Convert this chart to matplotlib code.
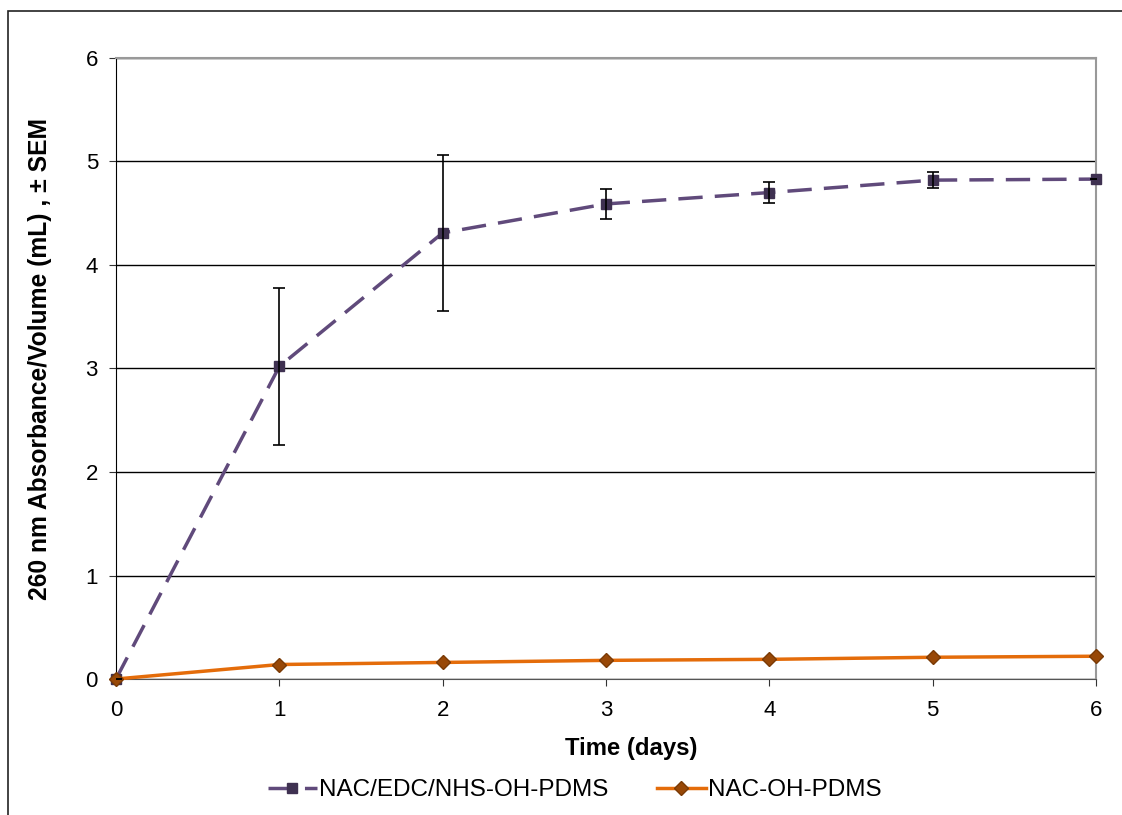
import matplotlib.pyplot as plt
from matplotlib.lines import Line2D
from matplotlib.patches import Rectangle

days = [0, 1, 2, 3, 4, 5, 6]
edc_vals = [0.0, 3.02, 4.31, 4.59, 4.70, 4.82, 4.83]
edc_sem = [0.0, 0.755, 0.75, 0.145, 0.10, 0.075, 0.0]
nac_vals = [0.0, 0.14, 0.16, 0.18, 0.19, 0.21, 0.22]

plt.rcParams["font.family"] = ["Liberation Sans", "DejaVu Sans"]

fig = plt.figure(figsize=(11.22, 8.15), dpi=100)
ax = fig.add_axes([116 / 1122, 1 - 679 / 815, 980 / 1122, 621 / 815])

# outer frame of the chart area
fig.patches.append(Rectangle((8 / 1122, -0.05), 1.2, 1 - 11 / 815 + 0.05,
                             transform=fig.transFigure, fill=False,
                             edgecolor="#222222", linewidth=1.2))

purple, purple_dark = "#604A7B", "#3F3151"
orange, brown = "#E46C0A", "#984807"

ax.errorbar(days, edc_vals, yerr=edc_sem, fmt="none", ecolor="black",
            elinewidth=1.2, capsize=4, capthick=1.2, zorder=4)
ax.plot(days, edc_vals, color=purple, linestyle=(0, (7, 3.5)), linewidth=2.5,
        marker="s", markersize=7, markerfacecolor=purple_dark,
        markeredgecolor=purple_dark, clip_on=False, zorder=3)
ax.plot(days, nac_vals, color=orange, linestyle="-", linewidth=2.5,
        marker="D", markersize=7, markerfacecolor=brown,
        markeredgecolor="#7a3a05", clip_on=False, zorder=3)

ax.set_xlim(0, 6)
ax.set_ylim(0, 6)
ax.set_xticks(days)
ax.set_yticks(range(7))
ax.grid(axis="y", color="black", linewidth=1)
ax.set_axisbelow(True)
for s in ["top", "right"]:
    ax.spines[s].set_color("#999999")
    ax.spines[s].set_linewidth(1.5)
ax.spines["left"].set_color("black")
ax.spines["bottom"].set_color("#555555")
ax.tick_params(axis="both", labelsize=16, length=5, direction="out",
               colors="#333333", labelcolor="black")
ax.tick_params(axis="y", pad=8)
ax.tick_params(axis="x", pad=10)
ax.set_xlabel("Time (days)", fontsize=17.2, fontweight="bold")
ax.xaxis.set_label_coords(0.5255, -0.0934)
ax.set_ylabel("260 nm Absorbance/Volume (mL) , \u00b1 SEM", fontsize=17.7,
              fontweight="bold")
ax.yaxis.set_label_coords(-0.0653, 0.515)

handles = [
    Line2D([], [], color=purple, linestyle=(0, (7, 3.5)), linewidth=2.5, marker="s",
           markersize=7, markerfacecolor=purple_dark, markeredgecolor=purple_dark),
    Line2D([], [], color=orange, linewidth=2.5, marker="D", markersize=7,
           markerfacecolor=brown, markeredgecolor="#7a3a05"),
]
ax.legend(handles, ["NAC/EDC/NHS-OH-PDMS", "NAC-OH-PDMS"], loc="center left",
          bbox_to_anchor=(0.155, -0.179), ncol=2, frameon=False, fontsize=17.5,
          handlelength=2.0, handletextpad=0.1, columnspacing=2.0, borderpad=0,
          borderaxespad=0)

fig.savefig("out.png", dpi=100)
plt.close(fig)
